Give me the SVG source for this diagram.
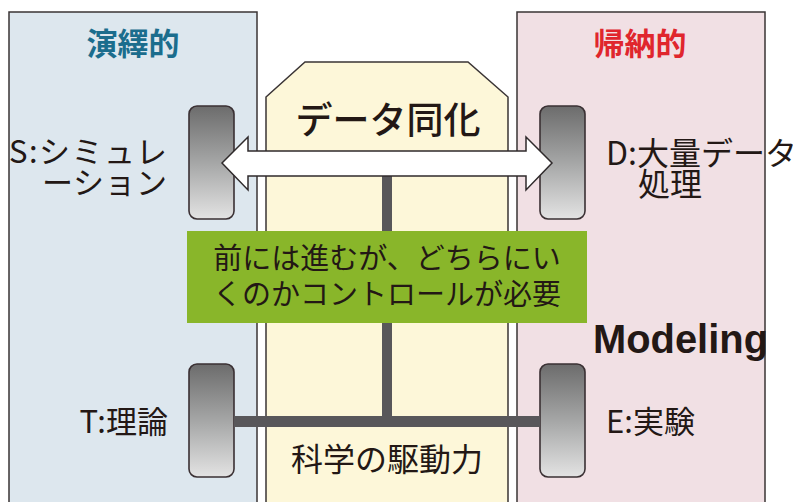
<svg xmlns="http://www.w3.org/2000/svg" width="793" height="502" viewBox="0 0 793 502">
<defs>
<linearGradient id="tireGrad" x1="0" y1="0" x2="0" y2="1">
<stop offset="0" stop-color="#6c6c6c"/>
<stop offset="0.5" stop-color="#a5a6a6"/>
<stop offset="1" stop-color="#e3e3e3"/>
</linearGradient>
<style>
.panel{stroke:#3a3435;stroke-width:1.5}
.tire{fill:url(#tireGrad);stroke:#3a3033;stroke-width:1.6}
.axle{fill:#58575a}
.jp{font-family:"Noto Sans CJK JP","Noto Sans",sans-serif;fill:#231815}
</style>
</defs>
<rect width="793" height="502" fill="#ffffff"/>
<g id="deductive">
<rect class="panel" x="9" y="12" width="248" height="500" fill="#dde7ee"/>
<text class="jp" x="133" y="55" font-size="31" font-weight="bold" text-anchor="middle" style="fill:#1b6d8d">演繹的</text>
</g>
<g id="inductive">
<rect class="panel" x="517" y="12" width="248" height="500" fill="#f1e0e4"/>
<text class="jp" x="640" y="55" font-size="31" font-weight="bold" text-anchor="middle" style="fill:#e0262d">帰納的</text>
</g>
<g id="center">
<polygon class="panel" points="266,97 305,62 468,62 508,97 508,512 266,512" fill="#fdf7d9"/>
<text class="jp" x="388" y="134" font-size="37" font-weight="500" text-anchor="middle">データ同化</text>
</g>
<g id="tire-S"><rect class="tire" x="189" y="106" width="45" height="113" rx="8"/></g>
<g id="tire-D"><rect class="tire" x="540" y="106" width="45" height="113" rx="8"/></g>
<g id="tire-T"><rect class="tire" x="189" y="364" width="45" height="113" rx="8"/></g>
<g id="tire-E"><rect class="tire" x="540" y="364" width="45" height="113" rx="8"/></g>
<g id="connectors">
<rect class="axle" x="382" y="176" width="10" height="245"/>
<rect class="axle" x="234" y="416" width="306" height="11"/>
<polygon points="222,163 248,137 248,151 526,151 526,137 552,163 526,190 526,176 248,176 248,190" fill="#ffffff" stroke="#2f2a2b" stroke-width="1.5" stroke-linejoin="miter"/>
</g>
<g id="control">
<rect x="187" y="231" width="400" height="92" fill="#89b62a"/>
<text class="jp" x="387" y="269" font-size="29" text-anchor="middle">前には進むが、どちらにい</text>
<text class="jp" x="387" y="305" font-size="29" text-anchor="middle">くのかコントロールが必要</text>
</g>
<g id="label-S">
<text class="jp" x="9" y="163" font-size="31" textLength="158" lengthAdjust="spacing">S:シミュレ</text>
<text class="jp" x="42" y="194" font-size="31" textLength="125" lengthAdjust="spacing">ーション</text>
</g>
<g id="label-D">
<text class="jp" x="606" y="165" font-size="32">D:大量データ</text>
<text class="jp" x="638" y="196" font-size="32">処理</text>
</g>
<g id="label-T"><text class="jp" x="168" y="433" font-size="31" text-anchor="end">T:理論</text></g>
<g id="label-E"><text class="jp" x="606" y="433" font-size="31">E:実験</text></g>
<g id="label-drive"><text class="jp" x="387" y="471" font-size="32" text-anchor="middle">科学の駆動力</text></g>
<g id="modeling"><text x="593" y="353" font-family="'Liberation Sans',Arial,sans-serif" font-weight="bold" font-size="40" textLength="175" lengthAdjust="spacingAndGlyphs" fill="#231815">Modeling</text></g>
</svg>
